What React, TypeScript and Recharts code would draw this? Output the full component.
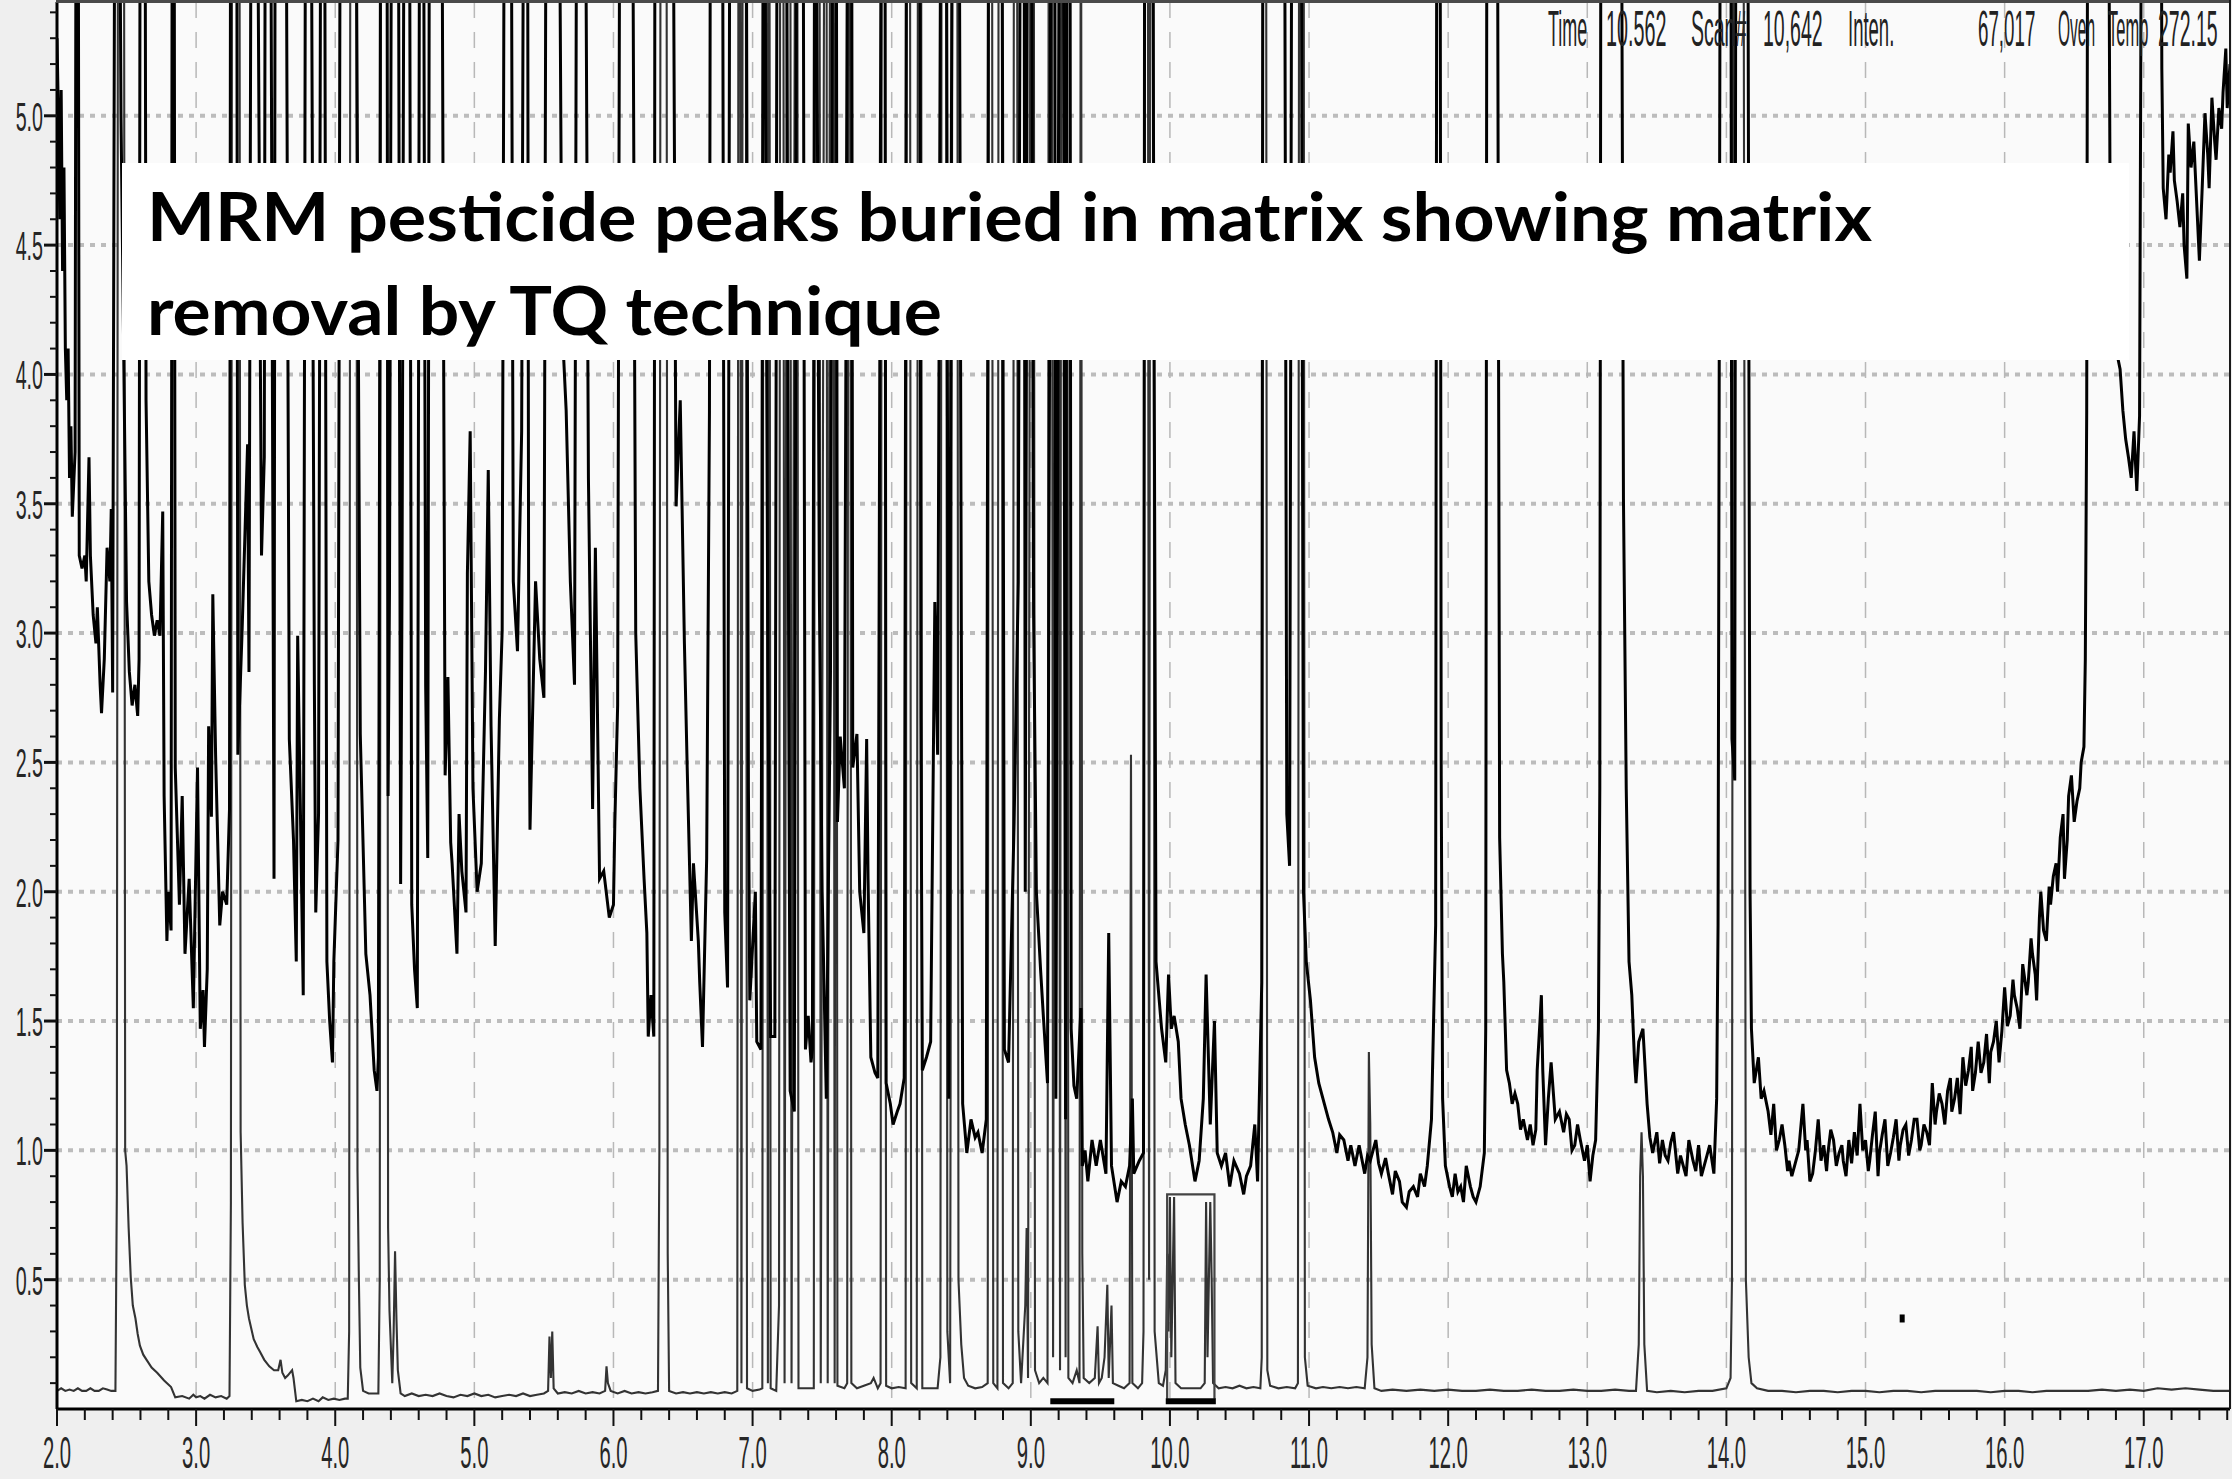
import { ComposedChart, Line, XAxis, YAxis, CartesianGrid, Scatter } from "recharts";

const W = 2232;
const H = 1479;
const X_MIN = 2.0;
const X_MAX = 17.62;
const Y_MAX = 5.44;
const TOP = 7; // peaks clipped above the frame

// tick labels
const xLabels = ["2.0", "3.0", "4.0", "5.0", "6.0", "7.0", "8.0", "9.0", "10.0", "11.0", "12.0", "13.0", "14.0", "15.0", "16.0", "17.0"];
const yLabels = ["0.5", "1.0", "1.5", "2.0", "2.5", "3.0", "3.5", "4.0", "4.5", "5.0"];

// full-scan trace (matrix), time / intensity
const ticLeft = [
  [2.0, 5.3], [2.01, 5.0], [2.02, 4.6], [2.03, 5.1], [2.04, 4.4], [2.05, 4.8], [2.06, 4.1], [2.07, 3.9],
  [2.08, 4.1], [2.09, 3.6], [2.1, 3.8], [2.11, 3.45], [2.13, 3.7], [2.14, TOP], [2.15, TOP], [2.16, 3.3],
  [2.18, 3.25], [2.2, 3.3], [2.21, 3.2], [2.23, 3.68], [2.24, 3.3], [2.26, 3.07], [2.28, 2.96], [2.29, 3.1],
  [2.31, 2.8], [2.32, 2.69], [2.34, 2.9], [2.36, 3.33], [2.38, 3.2], [2.39, 3.48], [2.4, 2.77], [2.42, TOP],
  [2.44, TOP], [2.46, 5.0], [2.5, 3.12], [2.52, 2.85], [2.54, 2.72], [2.56, 2.8], [2.58, 2.68], [2.59, 2.9],
  [2.6, TOP], [2.63, TOP], [2.64, 3.9], [2.66, 3.2], [2.68, 3.07], [2.7, 2.99], [2.72, 3.05], [2.74, 2.99],
  [2.76, 3.47], [2.77, 2.37], [2.79, 1.81], [2.8, 2.0], [2.82, 1.85], [2.83, TOP], [2.84, TOP], [2.85, 2.48],
  [2.88, 1.95], [2.9, 2.37], [2.92, 1.76], [2.95, 2.05], [2.98, 1.55], [3.01, 2.48], [3.03, 1.47], [3.05, 1.62],
  [3.06, 1.4], [3.08, 1.7], [3.09, 2.64], [3.11, 2.29], [3.12, 3.15], [3.14, 2.53], [3.17, 1.87], [3.19, 2.0],
  [3.22, 1.95], [3.24, 2.32], [3.25, TOP], [3.29, TOP], [3.3, 2.53], [3.33, 3.0], [3.37, 3.73], [3.38, 2.85],
  [3.4, TOP], [3.43, TOP], [3.47, 3.3], [3.49, 3.68], [3.5, TOP], [3.53, TOP], [3.56, 2.05], [3.57, TOP],
  [3.64, TOP], [3.67, 2.59], [3.7, 2.2], [3.72, 1.73], [3.73, 2.99], [3.75, 2.3], [3.77, 1.6], [3.79, TOP],
  [3.82, TOP], [3.85, 2.8], [3.86, 1.92], [3.88, 2.3], [3.9, TOP], [3.92, TOP], [3.94, 1.73], [3.96, 1.5],
  [3.98, 1.34], [3.99, 1.73], [4.02, 2.2], [4.04, TOP], [4.14, TOP], [4.18, 2.61], [4.22, 1.76], [4.25, 1.6],
  [4.28, 1.31], [4.3, 1.23], [4.31, 1.36], [4.33, TOP], [4.37, TOP], [4.38, 2.37], [4.39, 3.17], [4.41, TOP],
  [4.45, TOP], [4.47, 2.03], [4.48, 3.17], [4.5, TOP], [4.53, TOP], [4.55, 1.95], [4.57, 1.7], [4.59, 1.55],
  [4.61, TOP], [4.63, TOP], [4.65, 2.8], [4.665, 2.13], [4.68, TOP], [4.76, TOP], [4.79, 2.45], [4.81, 2.83],
  [4.83, 2.19], [4.84, 2.11], [4.875, 1.76], [4.89, 2.3], [4.91, 2.08], [4.94, 1.92], [4.95, 3.23], [4.97, 3.78],
  [4.99, 2.4], [5.02, 2.0], [5.05, 2.11], [5.08, 2.85], [5.1, 3.63], [5.12, 2.64], [5.15, 1.79], [5.18, 2.67],
  [5.2, 3.01], [5.22, TOP], [5.26, TOP], [5.28, 3.2], [5.31, 2.93], [5.34, 3.78], [5.36, TOP], [5.38, TOP],
  [5.39, 3.2], [5.4, 2.24], [5.44, 3.2], [5.47, 2.9], [5.5, 2.75], [5.52, TOP], [5.6, TOP], [5.63, 4.2],
  [5.66, 3.86], [5.69, 3.2], [5.72, 2.8], [5.74, TOP], [5.79, TOP], [5.82, 3.6], [5.85, 2.32], [5.87, 3.33],
  [5.9, 2.05], [5.93, 2.08], [5.97, 1.9], [6.0, 1.95], [6.01, 2.27], [6.03, 2.72], [6.05, TOP], [6.13, TOP],
  [6.16, 3.0], [6.19, 2.4], [6.22, 2.05], [6.24, 1.84], [6.25, 1.44], [6.27, 1.6], [6.29, 1.44], [6.3, TOP],
  [6.42, TOP], [6.45, 3.49], [6.48, 3.9], [6.51, 2.96], [6.53, 2.48], [6.56, 1.81], [6.575, 2.11], [6.61, 1.81],
  [6.62, 1.65], [6.64, 1.4], [6.67, 2.13], [6.69, 3.86], [6.7, TOP], [6.78, TOP], [6.8, 1.92], [6.82, 1.63],
  [6.84, TOP], [6.95, TOP],
];

const ticMid = [
  [6.97, 2.4], [6.98, 1.58], [7.02, 2.0], [7.03, 1.42], [7.06, 1.39], [7.08, TOP], [7.11, 2.85], [7.13, 1.44],
  [7.16, 1.44], [7.18, TOP], [7.24, TOP], [7.26, 2.75], [7.27, 1.23], [7.3, 1.15], [7.32, TOP], [7.36, TOP],
  [7.38, 1.39], [7.4, 1.52], [7.42, 1.34], [7.43, 1.39], [7.45, TOP], [7.48, 3.15], [7.5, 2.0], [7.53, 1.2],
  [7.56, 2.85], [7.58, TOP], [7.6, TOP], [7.61, 2.27], [7.63, 2.6], [7.66, 2.4], [7.69, TOP], [7.71, TOP],
  [7.72, 2.48], [7.75, 2.61], [7.77, 2.0], [7.8, 1.84], [7.82, 2.59], [7.83, 2.05], [7.85, 1.36], [7.88, 1.3],
  [7.9, 1.28], [7.93, TOP], [7.95, TOP], [7.96, 1.26], [7.99, 1.18], [8.01, 1.1], [8.04, 1.15], [8.06, 1.18],
  [8.09, 1.28], [8.11, TOP], [8.2, TOP], [8.21, 2.67], [8.22, 1.31], [8.25, 1.36], [8.28, 1.42], [8.31, 3.12],
  [8.33, 2.53], [8.36, TOP], [8.39, TOP], [8.41, 1.2], [8.44, TOP], [8.48, TOP], [8.51, 1.18], [8.54, 0.99],
  [8.57, 1.12], [8.6, 1.05], [8.62, 1.07], [8.65, 0.99], [8.68, 1.12], [8.7, TOP], [8.79, TOP], [8.81, 1.39],
  [8.84, 1.34], [8.88, 2.27], [8.91, 3.2], [8.93, TOP], [8.95, TOP], [8.96, 2.0], [8.98, TOP], [9.0, TOP],
  [9.02, 3.07], [9.04, 2.0], [9.07, 1.7], [9.09, 1.52], [9.12, 1.26], [9.15, TOP], [9.17, TOP], [9.18, 1.2],
  [9.21, TOP], [9.23, TOP], [9.25, 1.12], [9.26, TOP], [9.28, TOP], [9.29, 1.47], [9.31, 1.25], [9.33, 1.2],
  [9.36, 1.55], [9.37, 0.94], [9.39, 1.0], [9.41, 0.88], [9.44, 1.04], [9.47, 0.94], [9.5, 1.04], [9.54, 0.91],
  [9.56, 1.84], [9.58, 0.94], [9.62, 0.8], [9.65, 0.88], [9.68, 0.86], [9.71, 0.94], [9.73, 1.2], [9.74, 0.91],
  [9.78, 0.96], [9.81, 0.99], [9.82, TOP], [9.87, TOP], [9.9, 1.73], [9.94, 1.47], [9.97, 1.34], [9.99, 1.68],
  [10.01, 1.47], [10.03, 1.52], [10.06, 1.42], [10.08, 1.2], [10.11, 1.1], [10.14, 1.02], [10.18, 0.88], [10.21, 0.96],
  [10.24, 1.2], [10.26, 1.68], [10.29, 1.1], [10.32, 1.5], [10.34, 0.99], [10.37, 0.94], [10.4, 0.99], [10.43, 0.86],
  [10.46, 0.96], [10.5, 0.91], [10.53, 0.83], [10.55, 0.9], [10.58, 0.94], [10.61, 1.1], [10.63, 0.88], [10.66, 1.65],
  [10.67, TOP], [10.82, TOP], [10.84, 2.3], [10.86, 2.1], [10.88, TOP], [10.94, TOP], [10.96, 2.0], [10.98, 1.73],
  [11.01, 1.58], [11.04, 1.36], [11.07, 1.26], [11.11, 1.18], [11.14, 1.12], [11.17, 1.07], [11.2, 0.99], [11.22, 1.06],
  [11.25, 1.04], [11.28, 0.96], [11.3, 1.02], [11.33, 0.94], [11.36, 1.02], [11.4, 0.91], [11.42, 0.98], [11.44, 0.96],
  [11.48, 1.04], [11.5, 0.95], [11.52, 0.91], [11.55, 0.97], [11.57, 0.91], [11.6, 0.83], [11.62, 0.92], [11.65, 0.88],
  [11.67, 0.8], [11.7, 0.78], [11.72, 0.84], [11.75, 0.86], [11.78, 0.82], [11.8, 0.91], [11.83, 0.86], [11.85, 0.94],
  [11.88, 1.12], [11.91, 1.87],
];

const ticRight = [
  [11.92, TOP], [11.94, TOP], [11.95, 2.45], [11.96, 1.2], [11.98, 0.94], [12.01, 0.86], [12.03, 0.82], [12.05, 0.91],
  [12.07, 0.84], [12.09, 0.86], [12.11, 0.8], [12.13, 0.94], [12.16, 0.86], [12.18, 0.82], [12.2, 0.8], [12.23, 0.86],
  [12.26, 0.99], [12.27, 1.47], [12.28, TOP], [12.35, TOP], [12.37, 2.21], [12.39, 1.76], [12.4, 1.65], [12.42, 1.31],
  [12.44, 1.26], [12.46, 1.18], [12.48, 1.22], [12.5, 1.18], [12.52, 1.08], [12.54, 1.12], [12.57, 1.04], [12.59, 1.1],
  [12.61, 1.02], [12.63, 1.08], [12.64, 1.31], [12.66, 1.5], [12.67, 1.6], [12.68, 1.31], [12.7, 1.02], [12.72, 1.2],
  [12.74, 1.34], [12.77, 1.12], [12.8, 1.15], [12.83, 1.07], [12.85, 1.14], [12.87, 1.12], [12.89, 1.0], [12.91, 1.02],
  [12.93, 1.1], [12.95, 1.04], [12.98, 0.96], [13.0, 1.02], [13.02, 0.88], [13.04, 0.98], [13.06, 1.04], [13.08, 1.47],
  [13.09, 2.4], [13.1, TOP], [13.24, TOP], [13.26, 3.52], [13.28, 2.4], [13.3, 1.73], [13.32, 1.6], [13.34, 1.34],
  [13.35, 1.26], [13.37, 1.42], [13.4, 1.47], [13.43, 1.18], [13.45, 1.05], [13.47, 0.99], [13.5, 1.07], [13.52, 0.95],
  [13.54, 1.04], [13.56, 0.98], [13.58, 0.96], [13.6, 1.03], [13.62, 1.07], [13.65, 0.91], [13.67, 0.98], [13.69, 0.94],
  [13.71, 0.9], [13.73, 1.04], [13.76, 0.96], [13.78, 0.92], [13.8, 1.02], [13.82, 0.9], [13.84, 0.94], [13.86, 0.98],
  [13.88, 1.02], [13.91, 0.91], [13.93, 1.2], [13.94, 1.87], [13.96, TOP], [14.03, TOP], [14.04, 2.59], [14.06, 2.43],
  [14.07, TOP], [14.15, TOP], [14.17, 2.0], [14.18, 1.47], [14.2, 1.26], [14.23, 1.36], [14.25, 1.2], [14.27, 1.23],
  [14.3, 1.15], [14.32, 1.06], [14.34, 1.18], [14.36, 1.0], [14.38, 1.04], [14.4, 1.1], [14.42, 1.02], [14.44, 0.92],
  [14.45, 0.96], [14.47, 0.9], [14.49, 0.94], [14.52, 1.0], [14.55, 1.18], [14.57, 1.0], [14.58, 1.04], [14.6, 0.88],
  [14.62, 0.91], [14.64, 1.0], [14.66, 1.12], [14.68, 0.96], [14.7, 1.02], [14.72, 0.92], [14.73, 0.99], [14.75, 1.08],
  [14.77, 1.04], [14.79, 0.94], [14.81, 0.99], [14.83, 1.02], [14.84, 0.96], [14.86, 0.9], [14.88, 1.04], [14.9, 0.95],
  [14.92, 1.07], [14.94, 0.98], [14.96, 1.18], [14.98, 1.0], [15.0, 1.04], [15.02, 0.92], [15.03, 0.96], [15.05, 1.06],
  [15.07, 1.15], [15.09, 0.9], [15.1, 0.99], [15.12, 1.06], [15.14, 1.12], [15.16, 0.94], [15.18, 0.99], [15.2, 1.05],
  [15.22, 1.12], [15.24, 0.96], [15.25, 1.02], [15.27, 1.08], [15.29, 1.1], [15.31, 0.98], [15.33, 1.04], [15.35, 1.12],
  [15.37, 1.12], [15.39, 1.0], [15.4, 1.02], [15.42, 1.1], [15.44, 1.07], [15.46, 1.02], [15.48, 1.26], [15.5, 1.1],
  [15.51, 1.15], [15.53, 1.22], [15.55, 1.18], [15.57, 1.1], [15.59, 1.23], [15.61, 1.28], [15.62, 1.15], [15.64, 1.2],
  [15.66, 1.28], [15.68, 1.14], [15.7, 1.36], [15.72, 1.25], [15.74, 1.31], [15.76, 1.4], [15.77, 1.23], [15.79, 1.3],
  [15.81, 1.42], [15.83, 1.3], [15.85, 1.34], [15.87, 1.45], [15.89, 1.26], [15.9, 1.38], [15.92, 1.42], [15.94, 1.5],
  [15.96, 1.34], [15.98, 1.46], [16.0, 1.63], [16.02, 1.48], [16.04, 1.52], [16.06, 1.66], [16.07, 1.6], [16.09, 1.55],
  [16.11, 1.47], [16.13, 1.72], [16.14, 1.68], [16.16, 1.6], [16.17, 1.65], [16.19, 1.82], [16.2, 1.76], [16.22, 1.68],
  [16.23, 1.58], [16.25, 1.9], [16.26, 2.0], [16.28, 1.85], [16.3, 1.81], [16.32, 2.02], [16.33, 1.95], [16.35, 2.06],
  [16.37, 2.11], [16.38, 2.0], [16.4, 2.21], [16.42, 2.3], [16.43, 2.05], [16.45, 2.2], [16.46, 2.37], [16.48, 2.45],
  [16.5, 2.27], [16.52, 2.35], [16.54, 2.4], [16.55, 2.5], [16.57, 2.56], [16.58, 2.9], [16.59, 3.86], [16.6, TOP],
  [16.74, TOP], [16.76, 4.4], [16.8, 4.1], [16.83, 4.02], [16.85, 3.86], [16.87, 3.75], [16.89, 3.68], [16.91, 3.6],
  [16.93, 3.78], [16.95, 3.55], [16.97, 3.84], [16.99, TOP], [17.12, TOP], [17.13, 5.18], [17.14, 4.72], [17.16, 4.6],
  [17.18, 4.85], [17.19, 4.78], [17.21, 4.94], [17.22, 4.75], [17.24, 4.67], [17.26, 4.57], [17.28, 4.7], [17.29, 4.5],
  [17.31, 4.37], [17.32, 4.97], [17.34, 4.8], [17.36, 4.9], [17.38, 4.67], [17.4, 4.44], [17.42, 4.72], [17.44, 5.01],
  [17.46, 4.85], [17.47, 4.72], [17.49, 5.07], [17.51, 4.9], [17.52, 4.83], [17.54, 5.03], [17.56, 4.95], [17.57, 5.09],
  [17.59, 5.26], [17.6, 5.03], [17.62, 5.2],
];

// MRM trace (pesticide transitions)
const mrmLeft = [
  [2.0, 0.07], [2.03, 0.08], [2.06, 0.07], [2.09, 0.075], [2.12, 0.07], [2.15, 0.08], [2.18, 0.07], [2.21, 0.07],
  [2.24, 0.08], [2.27, 0.07], [2.3, 0.07], [2.33, 0.08], [2.36, 0.075], [2.39, 0.07], [2.42, 0.07], [2.43, 0.83],
  [2.44, TOP], [2.48, TOP], [2.49, 1.0], [2.5, 0.94], [2.515, 0.7], [2.53, 0.51], [2.545, 0.4], [2.564, 0.35],
  [2.58, 0.29], [2.596, 0.245], [2.62, 0.21], [2.644, 0.19], [2.68, 0.16], [2.72, 0.14], [2.77, 0.11], [2.82, 0.085],
  [2.85, 0.045], [2.9, 0.05], [2.95, 0.04], [2.98, 0.055], [3.0, 0.045], [3.03, 0.05], [3.06, 0.04], [3.1, 0.055],
  [3.14, 0.045], [3.18, 0.05], [3.22, 0.04], [3.24, 0.05], [3.25, 0.8], [3.26, TOP], [3.31, TOP], [3.32, 1.07],
  [3.334, 0.72], [3.35, 0.48], [3.365, 0.4], [3.38, 0.35], [3.414, 0.27], [3.44, 0.24], [3.46, 0.22], [3.49, 0.19],
  [3.526, 0.165], [3.56, 0.15], [3.59, 0.15], [3.607, 0.19], [3.62, 0.14], [3.64, 0.12], [3.66, 0.13], [3.69, 0.15],
  [3.7, 0.12], [3.72, 0.03], [3.76, 0.035], [3.8, 0.03], [3.84, 0.04], [3.88, 0.03], [3.91, 0.045], [3.95, 0.035],
  [3.99, 0.04], [4.03, 0.035], [4.07, 0.04], [4.09, 0.04], [4.1, 0.3], [4.11, TOP], [4.15, TOP], [4.16, 0.92],
  [4.17, 0.5], [4.18, 0.16], [4.2, 0.07], [4.24, 0.06], [4.28, 0.06], [4.31, 0.06], [4.32, 0.5], [4.33, TOP],
  [4.37, TOP], [4.38, 0.7], [4.39, 0.38], [4.41, 0.1], [4.42, 0.3], [4.43, 0.61], [4.44, 0.35], [4.45, 0.15],
  [4.47, 0.06], [4.5, 0.05], [4.55, 0.06], [4.6, 0.05], [4.65, 0.055], [4.7, 0.05], [4.75, 0.06], [4.8, 0.05],
  [4.85, 0.045], [4.9, 0.055], [4.95, 0.05], [5.0, 0.06], [5.05, 0.05], [5.1, 0.055], [5.15, 0.045], [5.2, 0.05],
  [5.25, 0.055], [5.3, 0.05], [5.35, 0.06], [5.4, 0.05], [5.45, 0.055], [5.5, 0.06], [5.53, 0.07], [5.54, 0.28],
  [5.55, 0.12], [5.56, 0.3], [5.57, 0.08], [5.6, 0.06], [5.65, 0.065], [5.7, 0.06], [5.75, 0.07], [5.8, 0.06],
  [5.85, 0.065], [5.9, 0.06], [5.94, 0.07], [5.95, 0.165], [5.96, 0.1], [5.98, 0.07], [6.03, 0.06], [6.08, 0.07],
  [6.13, 0.06], [6.18, 0.065], [6.23, 0.06], [6.28, 0.065], [6.32, 0.07], [6.33, 1.0], [6.34, TOP], [6.38, TOP],
  [6.39, 0.6], [6.4, 0.07], [6.45, 0.06], [6.5, 0.065], [6.55, 0.06], [6.6, 0.065], [6.65, 0.06], [6.7, 0.065],
  [6.75, 0.06], [6.8, 0.065], [6.85, 0.06], [6.89, 0.07],
];

const mrmMid = [
  [6.9, TOP], [6.91, TOP], [6.92, 0.1], [6.93, TOP], [6.95, TOP], [6.96, 0.08], [7.0, 0.07], [7.05, 0.075],
  [7.07, 0.08], [7.08, TOP], [7.1, TOP], [7.11, 0.1], [7.12, TOP], [7.13, 0.08], [7.17, 0.07], [7.19, 0.4],
  [7.2, TOP], [7.22, TOP], [7.23, 0.1], [7.25, TOP], [7.27, TOP], [7.28, 0.1], [7.31, TOP], [7.32, TOP],
  [7.33, 0.08], [7.38, 0.08], [7.44, 0.08], [7.45, TOP], [7.48, TOP], [7.49, 0.1], [7.52, TOP], [7.53, TOP],
  [7.54, 0.1], [7.56, TOP], [7.58, TOP], [7.59, 0.1], [7.6, TOP], [7.61, 0.09], [7.66, 0.08], [7.68, 0.1],
  [7.69, TOP], [7.7, TOP], [7.71, 0.1], [7.75, 0.08], [7.8, 0.09], [7.85, 0.1], [7.87, 0.12], [7.9, 0.08],
  [7.92, 0.1], [7.93, TOP], [7.95, TOP], [7.96, 0.09], [8.0, 0.08], [8.05, 0.085], [8.1, 0.08], [8.11, TOP],
  [8.13, TOP], [8.14, 0.1], [8.18, 0.08], [8.19, TOP], [8.21, TOP], [8.22, 0.08], [8.28, 0.08], [8.33, 0.08],
  [8.35, 0.2], [8.36, TOP], [8.39, TOP], [8.4, 0.3], [8.42, 0.1], [8.44, TOP], [8.47, TOP], [8.48, 0.5],
  [8.5, 0.25], [8.52, 0.12], [8.55, 0.09], [8.6, 0.08], [8.65, 0.085], [8.69, 0.1], [8.7, TOP], [8.72, TOP],
  [8.73, 0.1], [8.76, 0.08], [8.77, TOP], [8.79, TOP], [8.8, 0.1], [8.84, 0.08], [8.87, 0.1], [8.88, TOP],
  [8.9, TOP], [8.91, 0.3], [8.93, 0.1], [8.96, 0.4], [8.97, 0.7], [8.98, 0.12], [9.0, TOP], [9.02, TOP],
  [9.03, 0.15], [9.06, 0.1], [9.09, 0.12], [9.12, 0.1], [9.13, TOP], [9.15, TOP], [9.16, 0.2], [9.18, TOP],
  [9.2, TOP], [9.21, 0.15], [9.22, TOP], [9.24, TOP], [9.25, 0.2], [9.26, TOP], [9.27, 0.12], [9.3, 0.1],
  [9.33, 0.15], [9.35, 0.1], [9.36, TOP], [9.37, 0.6], [9.38, 0.12], [9.42, 0.1], [9.46, 0.12], [9.48, 0.32],
  [9.49, 0.1], [9.51, 0.12], [9.53, 0.2], [9.55, 0.48], [9.56, 0.12], [9.58, 0.4], [9.59, 0.1], [9.63, 0.09],
  [9.67, 0.08], [9.71, 0.1], [9.72, 2.53], [9.73, 0.1], [9.77, 0.08], [9.8, 0.1], [9.81, 0.3], [9.82, TOP],
  [9.84, TOP], [9.85, 0.5], [9.86, TOP], [9.88, TOP], [9.89, 0.3], [9.92, 0.1], [9.95, 0.09], [9.97, 0.15],
  [9.98, 0.6], [9.99, 0.3], [10.0, 0.82], [10.01, 0.2], [10.03, 0.82], [10.04, 0.1], [10.08, 0.08], [10.12, 0.08],
  [10.17, 0.08], [10.22, 0.08], [10.25, 0.1], [10.26, 0.8], [10.27, 0.2], [10.29, 0.8], [10.3, 0.5], [10.31, 0.1],
  [10.35, 0.08], [10.4, 0.085], [10.45, 0.08], [10.5, 0.09], [10.55, 0.08], [10.6, 0.085], [10.65, 0.08], [10.66, 0.2],
  [10.67, TOP], [10.69, TOP], [10.7, 0.15], [10.72, 0.09], [10.78, 0.08], [10.84, 0.085], [10.9, 0.08], [10.92, 0.1],
  [10.93, TOP], [10.96, TOP], [10.97, 0.2], [10.99, 0.09], [11.05, 0.08], [11.1, 0.085], [11.16, 0.08], [11.22, 0.085],
  [11.28, 0.08], [11.34, 0.085], [11.4, 0.08], [11.42, 0.2], [11.43, 1.38], [11.44, 1.1], [11.45, 0.25], [11.47, 0.08],
];

const mrmRight = [
  [11.52, 0.07], [11.6, 0.075], [11.7, 0.07], [11.8, 0.075], [11.9, 0.07], [12.0, 0.075], [12.1, 0.07], [12.2, 0.07],
  [12.3, 0.075], [12.4, 0.07], [12.5, 0.07], [12.6, 0.075], [12.7, 0.07], [12.8, 0.07], [12.9, 0.075], [13.0, 0.07],
  [13.1, 0.07], [13.2, 0.075], [13.3, 0.07], [13.35, 0.07], [13.37, 0.25], [13.38, 0.9], [13.39, 1.07], [13.4, 0.9],
  [13.41, 0.25], [13.43, 0.07], [13.5, 0.065], [13.6, 0.07], [13.7, 0.065], [13.8, 0.07], [13.9, 0.07], [14.0, 0.08],
  [14.03, 0.12], [14.04, 0.5], [14.05, TOP], [14.12, TOP], [14.14, 0.5], [14.16, 0.2], [14.18, 0.1], [14.22, 0.08],
  [14.3, 0.07], [14.4, 0.07], [14.5, 0.065], [14.6, 0.07], [14.7, 0.07], [14.8, 0.065], [14.9, 0.07], [15.0, 0.07],
  [15.1, 0.065], [15.2, 0.07], [15.3, 0.07], [15.4, 0.065], [15.5, 0.07], [15.6, 0.07], [15.7, 0.07], [15.8, 0.07],
  [15.9, 0.065], [16.0, 0.07], [16.1, 0.07], [16.2, 0.065], [16.3, 0.07], [16.4, 0.07], [16.5, 0.07], [16.6, 0.07],
  [16.7, 0.075], [16.8, 0.07], [16.9, 0.075], [17.0, 0.07], [17.1, 0.08], [17.2, 0.075], [17.3, 0.08], [17.4, 0.075],
  [17.5, 0.07], [17.62, 0.07],
];

// integration window box and segment markers
const windowBox = [[9.98, 0.04], [9.98, 0.83], [10.32, 0.83], [10.32, 0.04]];
const markerA = [[9.14, 0.03], [9.6, 0.03]];
const markerB = [[9.97, 0.03], [10.33, 0.03]];
const strayPoint = [[15.26, 0.35]];

const toPts = (arr: number[][]) => arr.map(([x, y]) => ({ x, y }));
const ticData = toPts([...ticLeft, ...ticMid, ...ticRight]);
const mrmData = toPts([...mrmLeft, ...mrmMid, ...mrmRight]);

const xTickValues = Array.from({ length: 79 }, (_, i) => Math.round((2 + i * 0.2) * 10) / 10);
const yTickValues = Array.from({ length: 54 }, (_, i) => (i + 1) / 10);
const xGrid = xLabels.map((l) => parseFloat(l)).filter((v) => v > X_MIN);
const yGrid = yLabels.map((l) => parseFloat(l));

const labelFont = "'Liberation Sans', Arial, sans-serif";

function XTick(props: any) {
  const { x, y, payload } = props;
  const v = payload.value;
  const label = xLabels.find((l) => Math.abs(parseFloat(l) - v) < 1e-6);
  return (
    <g>
      <line x1={x} x2={x} y1={y} y2={y + (label ? 17 : 11)} stroke="#111" strokeWidth={2} />
      {label && (
        <text
          transform={`translate(${x},${y + 59}) scale(0.46,1)`}
          textAnchor="middle"
          fontSize={44}
          fontFamily={labelFont}
          fill="#262626"
        >
          {label}
        </text>
      )}
    </g>
  );
}

function YTick(props: any) {
  const { x, y, payload } = props;
  const v = payload.value;
  const label = yLabels.find((l) => Math.abs(parseFloat(l) - v) < 1e-6);
  return (
    <g>
      <line x1={x - (label ? 13 : 7)} x2={x} y1={y} y2={y} stroke="#111" strokeWidth={label ? 3 : 2} />
      {label && (
        <text
          transform={`translate(${x - 14},${y + 15}) scale(0.48,1)`}
          textAnchor="end"
          fontSize={41}
          fontFamily={labelFont}
          fill="#262626"
        >
          {label}
        </text>
      )}
    </g>
  );
}

// status line words: left edge and horizontal squeeze
const infoWords = [
  { t: "Time", x: 1548, sx: 0.36 },
  { t: "10.562", x: 1606, sx: 0.395 },
  { t: "Scan#", x: 1691, sx: 0.39 },
  { t: "10,642", x: 1763, sx: 0.39 },
  { t: "Inten.", x: 1848, sx: 0.37 },
  { t: "67,017", x: 1978, sx: 0.375 },
  { t: "Oven", x: 2058, sx: 0.31 },
  { t: "Temp", x: 2108, sx: 0.33 },
  { t: "272.15", x: 2158, sx: 0.39 },
];

export default function App() {
  return (
    <div style={{ position: "absolute", left: 0, top: 0, width: W, height: H, background: "#efefef" }}>
      <ComposedChart width={W} height={H} margin={{ top: 2, right: 2, bottom: 0, left: 0 }}>
        <CartesianGrid
          vertical={false}
          horizontalValues={yGrid}
          stroke="#bcbcbc"
          strokeWidth={4}
          strokeDasharray="5 6"
          fill="#fafafa"
        />
        <CartesianGrid horizontal={false} verticalValues={xGrid} stroke="#b8b8b8" strokeWidth={1.5} strokeDasharray="16 14" />
        <XAxis
          dataKey="x"
          type="number"
          domain={[X_MIN, X_MAX]}
          allowDataOverflow
          ticks={xTickValues}
          interval={0}
          tick={XTick}
          tickLine={false}
          tickSize={0}
          tickMargin={0}
          height={70}
          axisLine={{ stroke: "#000", strokeWidth: 3 }}
        />
        <YAxis
          dataKey="y"
          type="number"
          domain={[0, Y_MAX]}
          allowDataOverflow
          ticks={yTickValues}
          interval={0}
          tick={YTick}
          tickLine={false}
          tickSize={0}
          tickMargin={0}
          width={57}
          axisLine={{ stroke: "#000", strokeWidth: 3 }}
        />
        <Line data={mrmData} dataKey="y" type="linear" stroke="#333" strokeWidth={2.1} dot={false} isAnimationActive={false} />
        <Line data={ticData} dataKey="y" type="linear" stroke="#000" strokeWidth={3} dot={false} isAnimationActive={false} />
        <Line data={toPts(windowBox)} dataKey="y" type="linear" stroke="#444" strokeWidth={2.2} dot={false} isAnimationActive={false} />
        <Line data={toPts(markerA)} dataKey="y" type="linear" stroke="#000" strokeWidth={6} dot={false} isAnimationActive={false} />
        <Line data={toPts(markerB)} dataKey="y" type="linear" stroke="#000" strokeWidth={6} dot={false} isAnimationActive={false} />
        <Scatter
          data={toPts(strayPoint)}
          dataKey="y"
          isAnimationActive={false}
          shape={(p: any) => <rect x={p.cx - 2} y={p.cy - 4} width={5} height={8} fill="#000" />}
        />
      </ComposedChart>
      <svg width={W} height={H} style={{ position: "absolute", left: 0, top: 0, pointerEvents: "none" }}>
        {/* frame: top and right edges of the plot */}
        <line x1={56} x2={2231} y1={1.5} y2={1.5} stroke="#4a4a4a" strokeWidth={3} />
        <line x1={2230} x2={2230} y1={0} y2={1409} stroke="#1a1a1a" strokeWidth={2} />
        {infoWords.map((w) => (
          <text
            key={w.t}
            transform={`translate(${w.x},46) scale(${w.sx},1)`}
            fontSize={50}
            fontFamily={labelFont}
            fill="#222"
          >
            {w.t}
          </text>
        ))}
        <rect x={122} y={163} width={2007} height={197} fill="#ffffff" />
        <text x={147} y={241} fontSize={66} fontWeight={700} fontFamily="Lato, 'Open Sans', sans-serif" fill="#000" textLength={1725} lengthAdjust="spacingAndGlyphs">
          MRM pesticide peaks buried in matrix showing matrix
        </text>
        <text x={147} y={335} fontSize={66} fontWeight={700} fontFamily="Lato, 'Open Sans', sans-serif" fill="#000" textLength={795} lengthAdjust="spacingAndGlyphs">
          removal by TQ technique
        </text>
      </svg>
    </div>
  );
}
